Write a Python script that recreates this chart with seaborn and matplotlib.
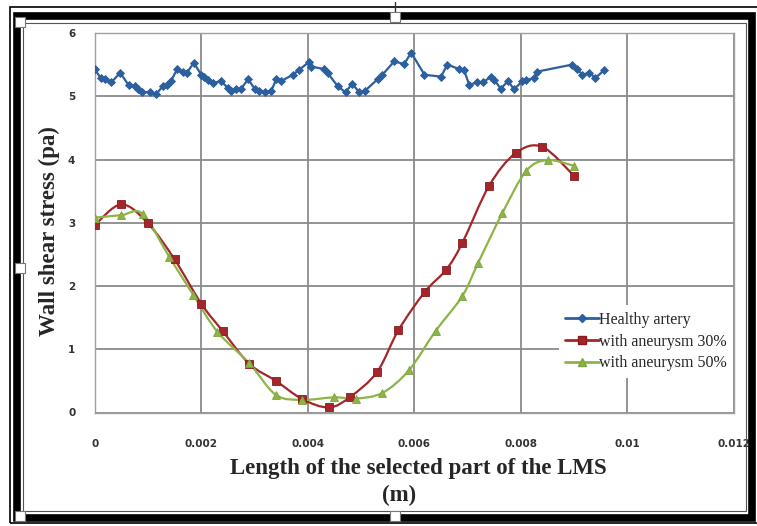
import numpy as np
import pandas as pd
import matplotlib
matplotlib.use("Agg")
import matplotlib.pyplot as plt
from matplotlib.patches import Rectangle, PathPatch
from matplotlib.path import Path
from matplotlib.lines import Line2D
import seaborn as sns

# ---- data: wall shear stress (Pa) along the selected LMS segment (m) ----
healthy_x = [0.0, 0.00011, 0.00019, 0.00031, 0.00048, 0.00064, 0.00075, 0.00081,
             0.00089, 0.00103, 0.00115, 0.00128, 0.00136, 0.00143, 0.00155, 0.00165,
             0.00173, 0.00186, 0.00200, 0.00206, 0.00213, 0.00222, 0.00237, 0.00250,
             0.00256, 0.00265, 0.00275, 0.00288, 0.00300, 0.00309, 0.00319, 0.00331,
             0.00341, 0.00350, 0.00372, 0.00384, 0.00402, 0.00406, 0.00431, 0.00437,
             0.00456, 0.00471, 0.00483, 0.00497, 0.00508, 0.00531, 0.00539, 0.00562,
             0.00581, 0.00594, 0.00619, 0.00650, 0.00662, 0.00684, 0.00693, 0.00703,
             0.00718, 0.00728, 0.00743, 0.00750, 0.00762, 0.00776, 0.00787, 0.00803,
             0.00809, 0.00825, 0.00831, 0.00896, 0.00906, 0.00915, 0.00928, 0.00940,
             0.00956]
healthy_y = [5.43, 5.29, 5.27, 5.22, 5.37, 5.17, 5.16, 5.11,
             5.07, 5.06, 5.03, 5.16, 5.18, 5.24, 5.43, 5.38,
             5.37, 5.53, 5.34, 5.31, 5.26, 5.21, 5.24, 5.13,
             5.08, 5.11, 5.12, 5.27, 5.12, 5.08, 5.06, 5.08,
             5.27, 5.24, 5.34, 5.42, 5.54, 5.47, 5.43, 5.37,
             5.16, 5.06, 5.20, 5.06, 5.09, 5.27, 5.33, 5.55,
             5.51, 5.69, 5.34, 5.31, 5.50, 5.43, 5.42, 5.18,
             5.22, 5.22, 5.30, 5.26, 5.12, 5.24, 5.11, 5.24,
             5.25, 5.29, 5.39, 5.50, 5.43, 5.34, 5.37, 5.29,
             5.41]

an30_x = [0.0, 0.0005, 0.0010, 0.0015, 0.0020, 0.0024, 0.0029, 0.0034, 0.0039, 0.0044,
          0.0048, 0.0053, 0.0057, 0.0062, 0.0066, 0.0069, 0.0074, 0.0079, 0.0084, 0.0090]
an30_y = [2.96, 3.29, 2.99, 2.42, 1.72, 1.29, 0.77, 0.50, 0.21, 0.08,
          0.25, 0.64, 1.30, 1.91, 2.26, 2.68, 3.58, 4.10, 4.20, 3.74]

an50_x = [0.0, 0.0005, 0.0009, 0.0014, 0.00185, 0.0023, 0.0029, 0.0034, 0.0039, 0.0045,
          0.0049, 0.0054, 0.0059, 0.0064, 0.0069, 0.0072, 0.00765, 0.0081, 0.0085, 0.0090]
an50_y = [3.08, 3.12, 3.14, 2.46, 1.86, 1.28, 0.78, 0.28, 0.20, 0.24,
          0.22, 0.31, 0.67, 1.29, 1.84, 2.37, 3.15, 3.82, 3.99, 3.90]

series_names = ["Healthy artery", "with aneurysm 30%", "with aneurysm 50%"]
x_ticks = [0, 0.002, 0.004, 0.006, 0.008, 0.01, 0.012]
x_tick_labels = ["0", "0.002", "0.004", "0.006", "0.008", "0.01", "0.012"]
y_ticks = [0, 1, 2, 3, 4, 5, 6]

# ---- styling ----
sns.set_theme(style="white")
plt.rcParams["font.family"] = ["DejaVu Sans"]

W, H = 757, 526
fig = plt.figure(figsize=(W / 100, H / 100), dpi=100)
fig.patch.set_facecolor("white")

left_px, right_px, top_px, bottom_px = 94.7, 734, 33, 412.5
ax = fig.add_axes([left_px / W, 1 - bottom_px / H,
                   (right_px - left_px) / W, (bottom_px - top_px) / H])

colors = ["#2B5F9E", "#A3262A", "#8DB446"]
edges = ["#2B5F9E", "#8B1A1E", "#7FA53A"]
markers = ["D", "s", "^"]
msizes = [3.8, 5.2, 5.6]
smooth = [False, True, True]


def smooth_path(xs, ys):
    """Cubic Bezier curve through the points (Catmull-Rom style tangents)."""
    p = np.column_stack([xs, ys]).astype(float)
    ext = np.vstack([p[0], p, p[-1]])
    verts = [p[0]]
    codes = [Path.MOVETO]
    for i in range(len(p) - 1):
        p0, p1, p2, p3 = ext[i], ext[i + 1], ext[i + 2], ext[i + 3]
        verts += [p1 + (p2 - p0) / 6.0, p2 - (p3 - p1) / 6.0, p2]
        codes += [Path.CURVE4] * 3
    return Path(verts, codes)


frames = [
    pd.DataFrame({"x": healthy_x, "y": healthy_y}),
    pd.DataFrame({"x": an30_x, "y": an30_y}),
    pd.DataFrame({"x": an50_x, "y": an50_y}),
]
for df, name, c, ec, m, ms, sm in zip(frames, series_names, colors, edges,
                                      markers, msizes, smooth):
    sns.lineplot(data=df, x="x", y="y", ax=ax, color=c, marker=m, markersize=ms,
                 markeredgecolor=ec, markeredgewidth=0.6,
                 linewidth=0 if sm else 1.6, sort=False, estimator=None,
                 legend=False, zorder=4)
    if sm:
        ax.add_patch(PathPatch(smooth_path(df["x"], df["y"]), fill=False,
                               edgecolor=c, linewidth=1.6, zorder=3))

ax.set_xlim(0, 0.012)
ax.set_ylim(0, 6)
ax.set_xticks(x_ticks)
ax.set_xticklabels(x_tick_labels)
ax.set_yticks(y_ticks)
ax.grid(True, color="#8A8A8A", linewidth=1.3, zorder=0)
ax.set_axisbelow(True)
for s in ax.spines.values():
    s.set_color("#A0A0A0")
    s.set_linewidth(1.0)
ax.tick_params(axis="both", length=0, labelsize=7.5, labelcolor="#333333")
ax.tick_params(axis="x", pad=19)
ax.tick_params(axis="y", pad=14)
for lbl in ax.get_xticklabels() + ax.get_yticklabels():
    lbl.set_fontweight("bold")

ax.set_xlabel("Length of the selected part of the LMS\n(m)       ", fontsize=16.5,
              fontweight="bold", family="Liberation Serif", linespacing=1.35)
ax.xaxis.set_label_coords(0.507, -0.121)
ax.set_ylabel("Wall shear stress (pa)", fontsize=16.5, fontweight="bold",
              family="Liberation Serif")
ax.yaxis.set_label_coords(-0.054, 0.478)

handles = [Line2D([], [], color=c, marker=m, markersize=ms,
                  markeredgecolor=ec, linewidth=2.0)
           for c, ec, m, ms in zip(colors, edges, markers, msizes)]
leg = ax.legend(handles, series_names, loc="upper left",
                bbox_to_anchor=(0.7256, 0.282), frameon=True, fancybox=False,
                framealpha=1, facecolor="white", edgecolor="none",
                prop={"family": "Liberation Serif", "size": 11.5},
                handlelength=2.1, handletextpad=0.05, labelspacing=0.36,
                borderpad=0.4, borderaxespad=0)
leg.set_zorder(5)

# ---- surrounding selection frame ----
def px_rect(x0, y0, x1, y1, **kw):
    return Rectangle((x0 / W, 1 - y1 / H), (x1 - x0) / W, (y1 - y0) / H,
                     transform=fig.transFigure, fill=False, **kw)

fig.add_artist(px_rect(10, 7, 760, 523, edgecolor="black", linewidth=1.2))
fig.add_artist(px_rect(16.5, 16, 752, 517.5, edgecolor="black", linewidth=5.5))
fig.add_artist(px_rect(22.5, 23, 746, 511, edgecolor="#555555", linewidth=0.8))

fig.add_artist(Line2D([395 / W, 395 / W], [1 - 2 / H, 1 - 12 / H],
                      transform=fig.transFigure, color="#333333", linewidth=1))
for hx, hy in [(20, 22), (395, 17), (20, 268), (20, 516), (395, 516)]:
    fig.add_artist(Rectangle(((hx - 5) / W, 1 - (hy + 5) / H), 10 / W, 10 / H,
                             transform=fig.transFigure, facecolor="white",
                             edgecolor="#777777", linewidth=0.8, zorder=10))

fig.savefig("out.png", dpi=100, facecolor="white")
